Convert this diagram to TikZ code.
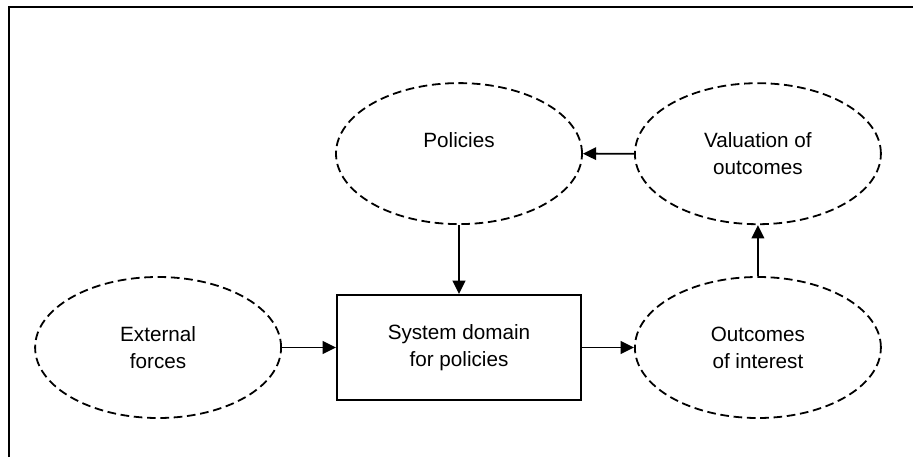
\documentclass[tikz,border=0pt]{standalone}
\usepackage{fontspec}
\setmainfont{Liberation Sans}
\usetikzlibrary{arrows.meta,shapes,positioning}
\tikzset{
    flow/.style={-{Triangle[length=10pt, width=9.5pt]}, line width=1.35pt},
    factor/.style={draw, ellipse, dash pattern=on 6.5pt off 3.5pt, line width=1.35pt,
        minimum width=184.5pt, minimum height=105.75pt, inner sep=0pt, align=center},
    sysbox/.style={draw, rectangle, line width=1.5pt, minimum width=183pt,
        minimum height=78.75pt, inner sep=0pt, align=center}
}

\begin{document}
\begin{tikzpicture}[x=0.75pt, y=-0.75pt, font=\fontsize{15.5}{20.25}\selectfont]
    \useasboundingbox (0,0) rectangle (913,457);
    % frame along the top and left edges
    \draw[line width=1.5pt] (8.5,457) -- (8.5,6.5) -- (913,6.5);

    \node[sysbox] (sys) at (459,347.5) {System domain\\for policies};
    \node[factor, left=40.5pt of sys] (ext) {External\\forces};
    \node[factor, right=39pt of sys] (out) {Outcomes\\of interest};
    \node[factor, above=51.75pt of sys] (pol) {Policies\\\mbox{}};
    \node[factor, above=38.25pt of out] (val) {Valuation of\\outcomes};

    \draw[flow] (ext) -- (sys);
    \draw[flow] (sys) -- (out);
    \draw[flow] (pol) -- (sys);
    \draw[flow] (out) -- (val);
    \draw[flow] (val) -- (pol);
\end{tikzpicture}
\end{document}
